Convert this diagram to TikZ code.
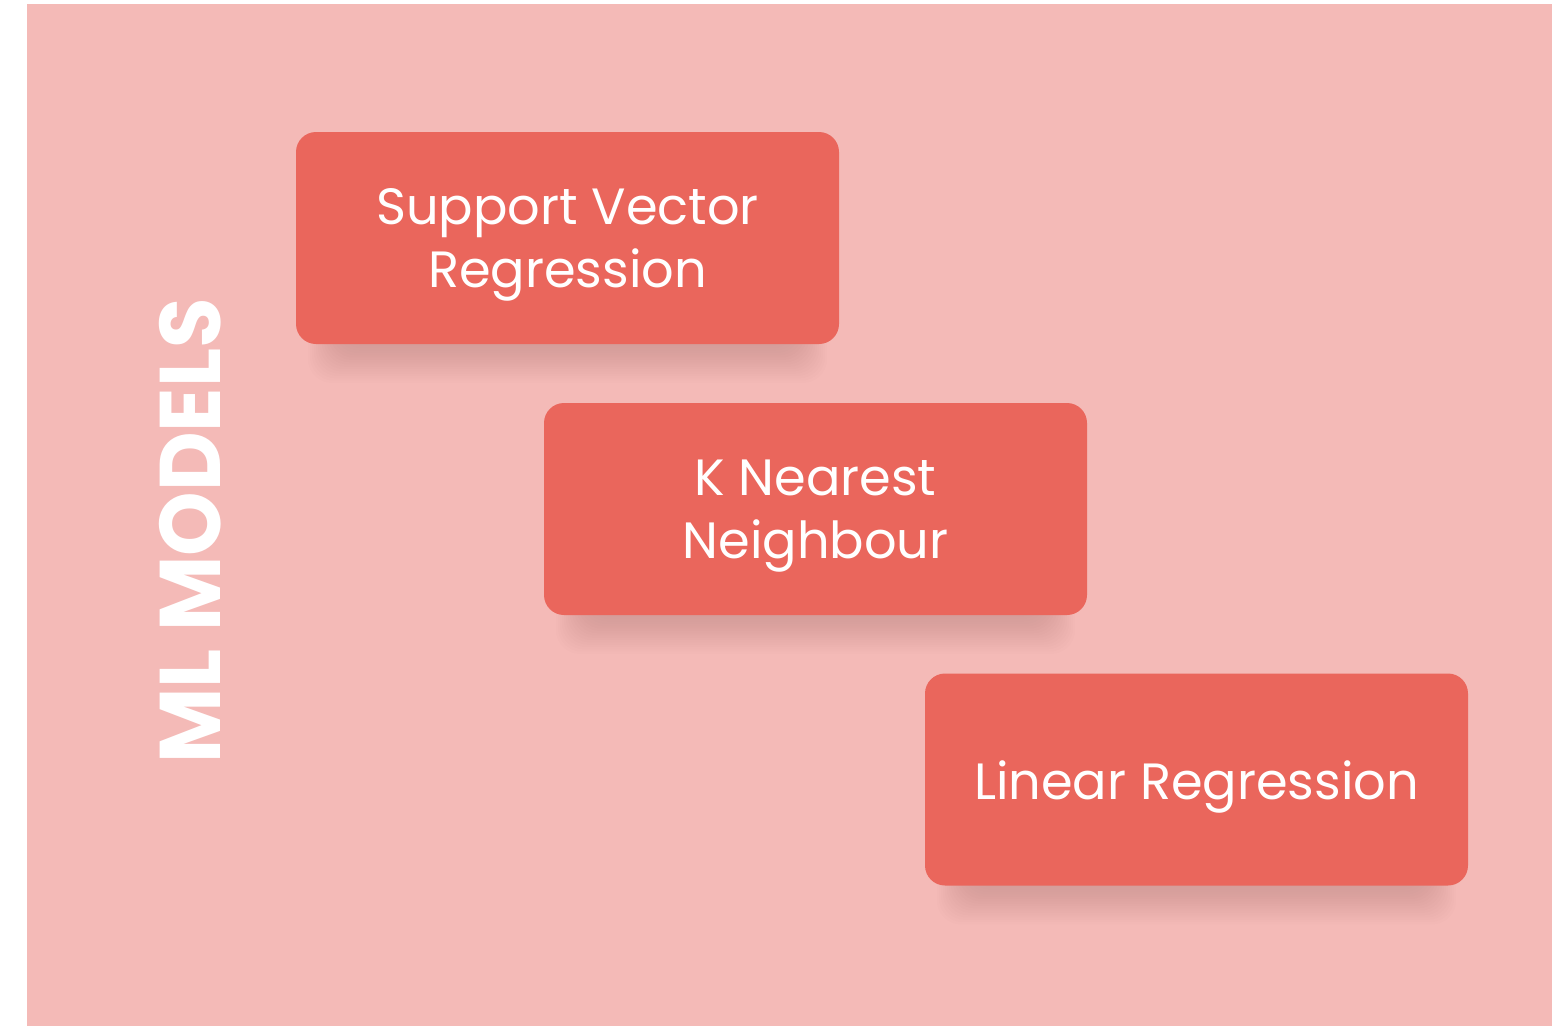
\documentclass[tikz,border=0pt]{standalone}
\usepackage{fontspec}
\setmainfont{Poppins}
\usetikzlibrary{calc}
\definecolor{bgpink}{HTML}{F4BAB7}
\definecolor{boxred}{HTML}{EA665C}
\definecolor{shadowc}{HTML}{5A2420}
\tikzset{
  modelbox/.style={fill=boxred, rounded corners=20pt, minimum width=543pt, minimum height=212pt,
    inner sep=0pt},
  boxtext/.style={text=white, align=center, font=\fontsize{51}{63}\selectfont, yshift=-7pt},
  shadowlayer/.style={fill=shadowc, opacity=0.009, rounded corners=24pt},
  titletext/.style={text=white, font=\fontsize{86}{86}\selectfont\bfseries, rotate=90, inner sep=0pt}
}
\newcommand{\boxshadow}[1]{%
  \foreach \k in {0,2,...,32}{
    \fill[shadowlayer] ($(#1.south west)+(44-\k,-30)$) rectangle ($(#1.south east)+(-44+\k,2+1.15*\k)$);
  }%
}
\begin{document}
\begin{tikzpicture}[x=1pt,y=-1pt]
\useasboundingbox (0,0) rectangle (1552,1026);
\fill[white] (0,0) rectangle (1552,1026);
\fill[bgpink] (27,4) rectangle (1552,1026);
\path (567.5,238) node[minimum width=543pt, minimum height=212pt] (svr) {}
      (815.5,509) node[minimum width=543pt, minimum height=212pt] (knn) {}
      (1196.5,779.5) node[minimum width=543pt, minimum height=212pt] (lr) {};
\boxshadow{svr}
\boxshadow{knn}
\boxshadow{lr}
\node[modelbox, label={[boxtext]center:{Support Vector\\Regression}}] (svrbox) at (svr) {};
\node[modelbox, label={[boxtext]center:{K Nearest\\Neighbour}}] (knnbox) at (knn) {};
\node[modelbox, label={[boxtext]center:{Linear Regression}}] (lrbox) at (lr) {};
\node[titletext] (title) at (190,531) {\scalebox{0.955}[1]{ML MODELS}};
\end{tikzpicture}
\end{document}
